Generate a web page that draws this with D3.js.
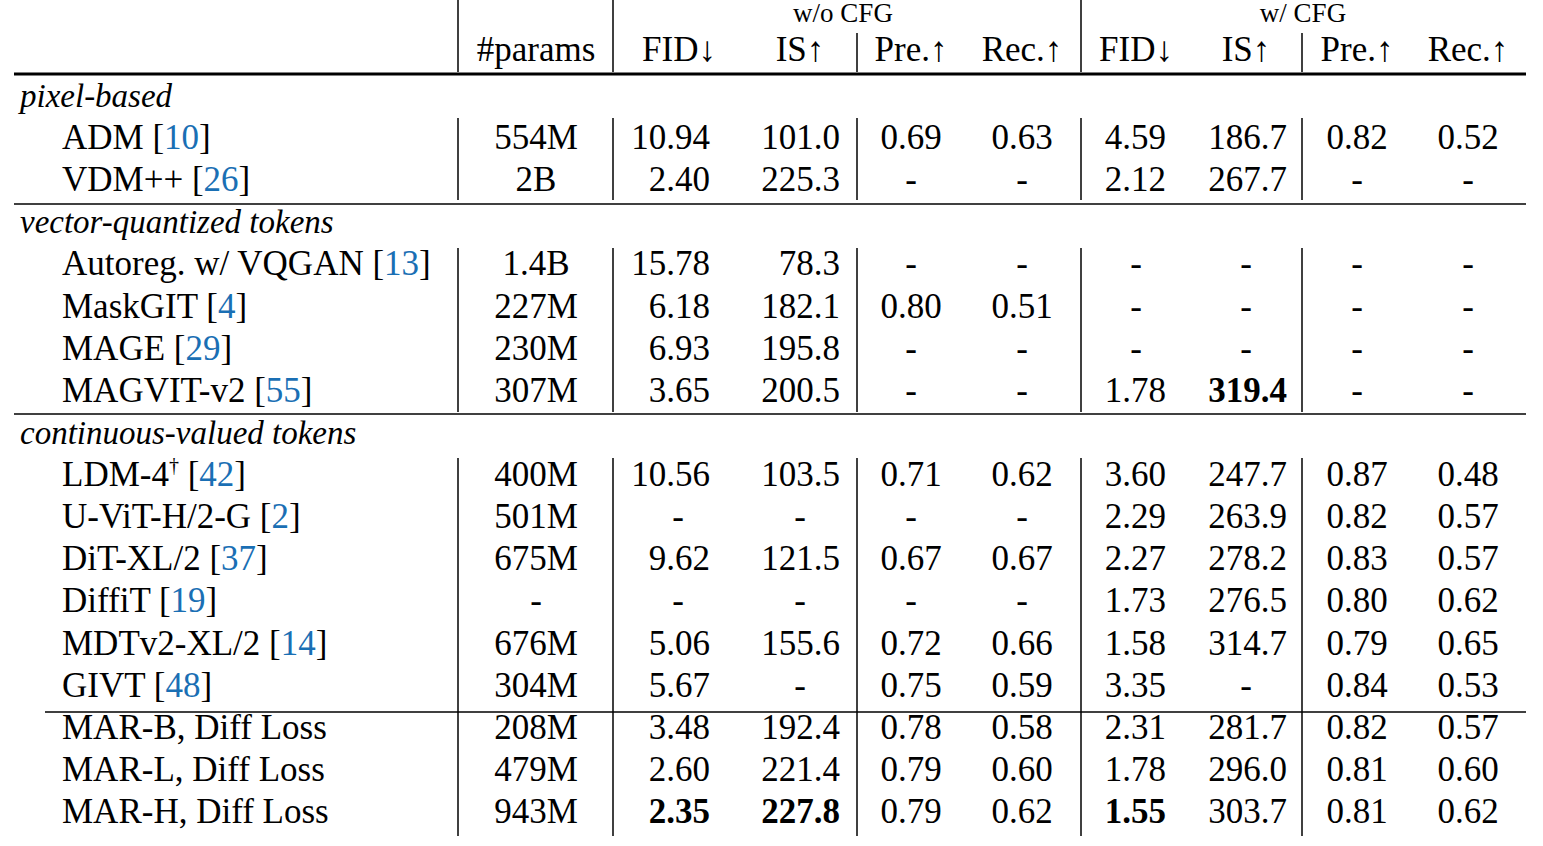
<!DOCTYPE html><html><head><meta charset="utf-8"><script src="https://cdn.jsdelivr.net/npm/d3@7"></script>
<style>body{margin:0;background:#fff}svg{display:block}</style></head><body><svg id="c" width="1543" height="846"></svg><script>
const groups=["pixel-based","vector-quantized tokens","continuous-valued tokens"];
const methods=["ADM","VDM++","Autoreg. w/ VQGAN","MaskGIT","MAGE","MAGVIT-v2","LDM-4","U-ViT-H/2-G","DiT-XL/2","DiffiT","MDTv2-XL/2","GIVT","MAR-B, Diff Loss","MAR-L, Diff Loss","MAR-H, Diff Loss"];
const groupOf=[0,0,1,1,1,1,2,2,2,2,2,2,2,2,2];
const cites=["10","26","13","4","29","55","42","2","37","19","14","48","","",""];
const params=["554M","2B","1.4B","227M","230M","307M","400M","501M","675M","-","676M","304M","208M","479M","943M"];
const fid1=["10.94","2.40","15.78","6.18","6.93","3.65","10.56","-","9.62","-","5.06","5.67","3.48","2.60","2.35"];
const is1=["101.0","225.3","78.3","182.1","195.8","200.5","103.5","-","121.5","-","155.6","-","192.4","221.4","227.8"];
const pre1=["0.69","-","-","0.80","-","-","0.71","-","0.67","-","0.72","0.75","0.78","0.79","0.79"];
const rec1=["0.63","-","-","0.51","-","-","0.62","-","0.67","-","0.66","0.59","0.58","0.60","0.62"];
const fid2=["4.59","2.12","-","-","-","1.78","3.60","2.29","2.27","1.73","1.58","3.35","2.31","1.78","1.55"];
const is2=["186.7","267.7","-","-","-","319.4","247.7","263.9","278.2","276.5","314.7","-","281.7","296.0","303.7"];
const pre2=["0.82","-","-","-","-","-","0.87","0.82","0.83","0.80","0.79","0.84","0.82","0.81","0.81"];
const rec2=["0.52","-","-","-","-","-","0.48","0.57","0.57","0.62","0.65","0.53","0.57","0.60","0.62"];
const bold=[["fid1",14],["is1",14],["is2",5],["fid2",14]];
const svg=d3.select("#c");
const F="'Liberation Serif','Times New Roman',serif";
const FS=35;
const slots=[];let s=0;
methods.forEach((m,i)=>{if(i===0||groupOf[i]!==groupOf[i-1]){slots.push({g:groupOf[i],slot:s++});}slots.push({m:i,slot:s++});});
const y=d3.scaleLinear().domain([0,17]).range([96,812]);
const base=d=>y(d)+11;
const cols=[{k:"fid1",a:fid1,r:710,c:678},{k:"is1",a:is1,r:840,c:800},{k:"pre1",a:pre1,c:911},{k:"rec1",a:rec1,c:1022},{k:"fid2",a:fid2,r:1166,c:1136},{k:"is2",a:is2,r:1287,c:1246},{k:"pre2",a:pre2,c:1357},{k:"rec2",a:rec2,c:1468}];
const t=(x,yy,txt,anchor="start",extra={})=>{const e=svg.append("text").attr("x",x).attr("y",yy).attr("font-family",F).attr("font-size",FS).attr("text-anchor",anchor).text(txt);for(const k in extra)e.attr(k,extra[k]);return e;};
t(843,22,"w/o CFG","middle",{"font-size":27});t(1303,22,"w/ CFG","middle",{"font-size":27});
const hy=61;
t(536,hy,"#params","middle");
[["FID↓",679],["IS↑",800],["Pre.↑",911],["Rec.↑",1022],["FID↓",1136],["IS↑",1246],["Pre.↑",1357],["Rec.↑",1468]].forEach(([a,x])=>t(x,hy,a,"middle"));
const line=(x1,y1,x2,y2,w=1.5)=>svg.append("line").attr("x1",x1).attr("y1",y1).attr("x2",x2).attr("y2",y2).attr("stroke","#000").attr("stroke-width",w);
line(14,74,1526,74,3);line(14,204,1526,204);line(14,414,1526,414);line(45,712,1526,712);
[458,613,1081].forEach(x=>line(x,0,x,72));[857,1302].forEach(x=>line(x,33,x,72));
const vx=[458,613,857,1081,1302];
[[118,200],[248,412],[458,836]].forEach(([a,b])=>vx.forEach(x=>line(x,a,x,b)));
slots.forEach(d=>{
 if(d.g!==undefined){t(20,base(d.slot),groups[d.g],"start",{"font-style":"italic","font-size":33});return;}
 const i=d.m,yy=base(d.slot);
 const e=t(62,yy,methods[i]);
 if(i===6)e.append("tspan").attr("font-size",20).attr("dy",-14).text("†").clone(true).attr("dy",14).attr("font-size",FS).text(" ");
 if(cites[i]){e.append("tspan").text(i===6?"[":" [");e.append("tspan").attr("fill","#1a6fb4").text(cites[i]);e.append("tspan").text("]");}
 t(536,yy,params[i],"middle");
 cols.forEach(c=>{const v=c.a[i];const b=bold.some(([k,r])=>k===c.k&&r===i);
  const ex=b?{"font-weight":"bold"}:{};
  if(v==="-"||c.r===undefined)t(c.c,yy,v,"middle",ex);else t(c.r,yy,v,"end",ex);});
});
</script></body></html>
